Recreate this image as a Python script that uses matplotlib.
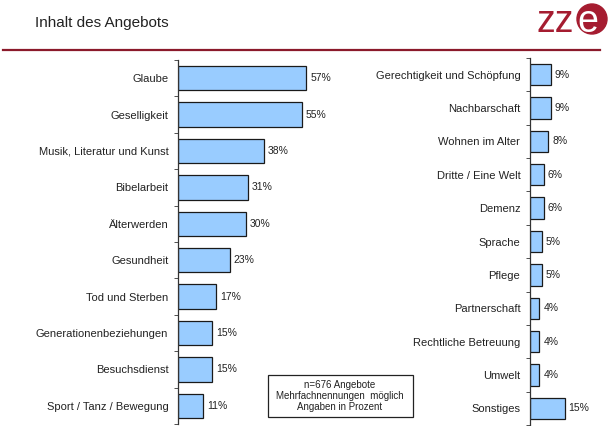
import matplotlib.pyplot as plt
from matplotlib.lines import Line2D
from matplotlib.patches import Circle, Rectangle
import numpy as np

plt.rcParams["font.family"] = ["Liberation Sans", "DejaVu Sans"]

left_labels = ["Glaube", "Geselligkeit", "Musik, Literatur und Kunst", "Bibelarbeit",
               "Älterwerden", "Gesundheit", "Tod und Sterben",
               "Generationenbeziehungen", "Besuchsdienst", "Sport / Tanz / Bewegung"]
left_values = [57, 55, 38, 31, 30, 23, 17, 15, 15, 11]

right_labels = ["Gerechtigkeit und Schöpfung", "Nachbarschaft", "Wohnen im Alter",
                "Dritte / Eine Welt", "Demenz", "Sprache", "Pflege", "Partnerschaft",
                "Rechtliche Betreuung", "Umwelt", "Sonstiges"]
right_values = [9, 9, 8, 6, 6, 5, 5, 4, 4, 4, 15]

title = "Inhalt des Angebots"
note = "n=676 Angebote\nMehrfachnennungen  möglich\nAngaben in Prozent"

W, H = 612, 426
BAR_COLOR = "#99CCFF"
RED = "#A51C30"


def px(x0, y0, x1, y1):
    return [x0 / W, 1 - y1 / H, (x1 - x0) / W, (y1 - y0) / H]


def draw_panel(fig, rect, labels, values, xmax, bar_h):
    ax = fig.add_axes(rect)
    n = len(labels)
    y = np.arange(n)
    ax.barh(y, values, height=bar_h, color=BAR_COLOR, edgecolor="#1a1a1a", linewidth=0.9)
    ax.set_ylim(n - 0.5, -0.5)
    ax.set_xlim(0, xmax)
    for s in ["top", "right", "bottom"]:
        ax.spines[s].set_visible(False)
    ax.spines["left"].set_color("#333333")
    ax.spines["left"].set_linewidth(0.9)
    ax.set_xticks([])
    ax.set_yticks(y)
    ax.set_yticklabels(labels, fontsize=8, color="#222222")
    ax.tick_params(axis="y", which="major", length=0, pad=7)
    ax.set_yticks(np.arange(n + 1) - 0.5, minor=True)
    ax.tick_params(axis="y", which="minor", length=3, direction="out", color="#333333")
    for yi, v in zip(y, values):
        ax.annotate(f"{v}%", (v, yi), xytext=(3, 0), textcoords="offset points",
                    va="center", ha="left", fontsize=7.5, color="#222222",
                    annotation_clip=False)
    return ax


fig = plt.figure(figsize=(W / 100, H / 100), dpi=100)

# header
fig.text(35 / W, 1 - 23 / H, title, fontsize=11, va="center", ha="left", color="#222222")
fig.add_artist(Line2D([3 / W, 600 / W], [1 - 50 / H, 1 - 50 / H], color="#8B1A2B", lw=1.6))
fig.text(536 / W, 1 - 32 / H, "zz", fontsize=27, va="baseline", ha="left", color=RED)
fig.add_artist(Circle((5.92, (H - 19) / 100), 0.15, transform=fig.dpi_scale_trans,
                      color=RED, zorder=3))
fig.text(588 / W, 1 - 32 / H, "e", fontsize=27, va="baseline", ha="center",
         color="white", zorder=4)

# panels
draw_panel(fig, px(178, 60, 313, 424), left_labels, left_values, 60, 0.67)
draw_panel(fig, px(530, 58, 576, 425), right_labels, right_values, 20, 0.64)

# note box
fig.add_artist(Rectangle((268 / W, 1 - 417 / H), 145 / W, 42 / H, transform=fig.transFigure,
                         facecolor="white", edgecolor="#222222", lw=0.9))
fig.text(340 / W, 1 - 396 / H, note, fontsize=7, ha="center", va="center",
         color="#222222", linespacing=1.15)

fig.savefig("out.png", dpi=100)
